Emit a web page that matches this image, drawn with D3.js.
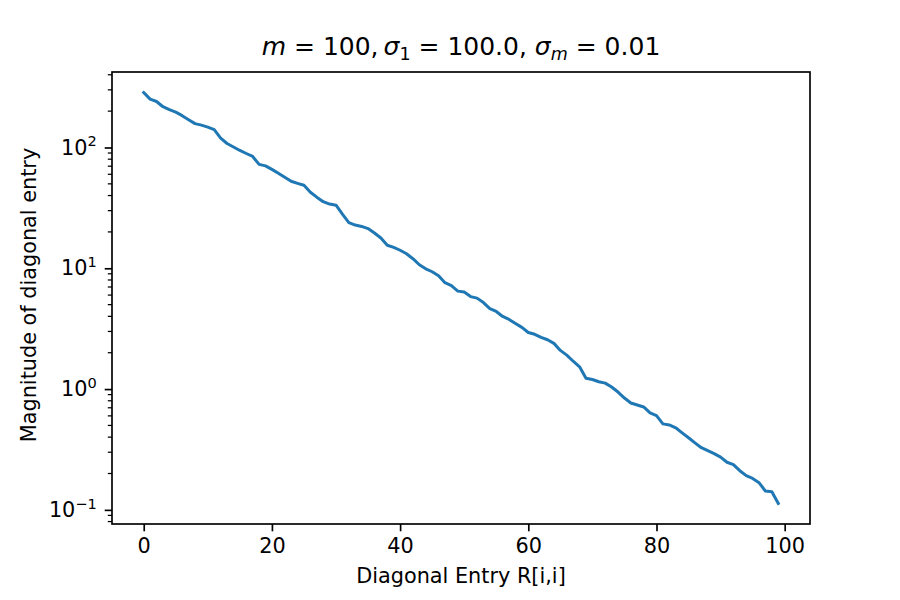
<!DOCTYPE html>
<html>
<head>
<meta charset="utf-8">
<script src="https://cdn.jsdelivr.net/npm/d3@7"></script>
<style>
  html, body { margin: 0; padding: 0; background: #fff; }
  svg { display: block; }
  text { font-family: "DejaVu Sans", sans-serif; fill: #000; }
</style>
</head>
<body>
<div id="chart"></div>
<script>
// ---- data ----
const entryIndex = d3.range(0, 100); // i = 0..99
const diagValues = [
  285, 251.6, 240.4, 217.5, 205.5, 196.0, 183.4, 170.0, 157.6, 153.2,
  147.5, 140.7, 119.7, 107.9, 101.0, 94.5, 89.2, 84.3, 72.5, 70.4,
  65.9, 61.1, 56.6, 52.5, 50.5, 48.7, 42.6, 38.8, 35.6, 34.0,
  33.3, 28.1, 23.9, 22.8, 22.2, 21.3, 19.6, 17.8, 15.5, 14.9,
  14.1, 13.2, 12.0, 10.7, 9.9, 9.36, 8.68, 7.60, 7.18, 6.47,
  6.35, 5.83, 5.66, 5.20, 4.64, 4.39, 3.99, 3.77, 3.49, 3.24,
  2.94, 2.84, 2.68, 2.56, 2.39, 2.09, 1.91, 1.70, 1.53, 1.23,
  1.20, 1.15, 1.12, 1.04, 0.945, 0.843, 0.767, 0.738, 0.711, 0.635,
  0.603, 0.515, 0.505, 0.478, 0.434, 0.395, 0.359, 0.327, 0.309, 0.292,
  0.273, 0.248, 0.237, 0.211, 0.192, 0.182, 0.168, 0.143, 0.141, 0.113
];
const xTickValues = [0, 20, 40, 60, 80, 100];
const yTickExponents = [-1, 0, 1, 2];
const titleParts = [
  {t: "m", it: true}, {t: " = 100,\u2009"}, {t: "σ", it: true}, {t: "1", sub: true},
  {t: " = 100.0, "}, {t: "σ", it: true}, {t: "m", it: true, sub: true}, {t: " = 0.01"}
];
const xLabel = "Diagonal Entry R[i,i]";
const yLabel = "Magnitude of diagonal entry";

// ---- layout ----
const W = 900, H = 600;
const mLeft = 112, mRight = 810, mTop = 72, mBottom = 524;
const color = "#1f77b4";
const fs = 20.8;

const svg = d3.select("#chart").append("svg").attr("width", W).attr("height", H);

// matplotlib-like 5% margins
const xPad = (d3.max(entryIndex) - d3.min(entryIndex)) * 0.05;
const x = d3.scaleLinear()
  .domain([d3.min(entryIndex) - xPad, d3.max(entryIndex) + xPad])
  .range([mLeft, mRight]);
const lmin = Math.log10(d3.min(diagValues)), lmax = Math.log10(d3.max(diagValues));
const lpad = (lmax - lmin) * 0.05;
const y = d3.scaleLog()
  .domain([Math.pow(10, lmin - lpad), Math.pow(10, lmax + lpad)])
  .range([mBottom, mTop]);

// line
const line = d3.line().x((d, i) => x(entryIndex[i])).y(d => y(d));
svg.append("path")
  .datum(diagValues)
  .attr("d", line)
  .attr("fill", "none")
  .attr("stroke", color)
  .attr("stroke-width", 3)
  .attr("stroke-linejoin", "round")
  .attr("stroke-linecap", "square");

// x axis
const xAxis = d3.axisBottom(x).tickValues(xTickValues).tickSize(7.3).tickPadding(7.3)
  .tickFormat(d3.format("d"));
const gx = svg.append("g").attr("transform", `translate(0,${mBottom})`).call(xAxis);
gx.select(".domain").remove();
gx.selectAll(".tick line").attr("stroke", "#000").attr("stroke-width", 1.67);
gx.selectAll(".tick text").attr("font-size", fs).attr("font-family", "DejaVu Sans").attr("fill", "#000");

// y axis: major ticks with 10^n labels
const yMajor = yTickExponents.map(e => Math.pow(10, e));
const yAxis = d3.axisLeft(y).tickValues(yMajor).tickSize(7.3).tickPadding(7.3).tickFormat("");
const gy = svg.append("g").attr("transform", `translate(${mLeft},0)`).call(yAxis);
gy.select(".domain").remove();
gy.selectAll(".tick line").attr("stroke", "#000").attr("stroke-width", 1.67);
gy.selectAll(".tick").each(function(d, i) {
  const e = yTickExponents[i];
  const t = d3.select(this).append("text")
    .attr("x", -15.2).attr("dy", "0.32em")
    .attr("text-anchor", "end").attr("font-size", fs).attr("fill", "#000");
  t.append("tspan").text("10");
  t.append("tspan").attr("font-size", fs * 0.7).attr("dy", -8.5)
    .text(e < 0 ? "\u2212" + (-e) : String(e));
});

// y minor ticks
const [dlo, dhi] = y.domain();
const minor = [];
for (let e = Math.floor(Math.log10(dlo)); e <= Math.ceil(Math.log10(dhi)); e++) {
  for (let k = 2; k <= 9; k++) {
    const v = k * Math.pow(10, e);
    if (v >= dlo && v <= dhi) minor.push(v);
  }
}
svg.append("g").selectAll("line").data(minor).join("line")
  .attr("x1", mLeft).attr("x2", mLeft - 4.2)
  .attr("y1", d => y(d)).attr("y2", d => y(d))
  .attr("stroke", "#000").attr("stroke-width", 1.25);

// spines
svg.append("rect")
  .attr("x", mLeft).attr("y", mTop).attr("width", mRight - mLeft).attr("height", mBottom - mTop)
  .attr("fill", "none").attr("stroke", "#000").attr("stroke-width", 1.67);

// labels
svg.append("text").attr("x", (mLeft + mRight) / 2).attr("y", 583)
  .attr("text-anchor", "middle").attr("font-size", fs).text(xLabel);
svg.append("text")
  .attr("transform", `translate(36,295) rotate(-90)`)
  .attr("text-anchor", "middle").attr("font-size", fs).text(yLabel);

// title
const title = svg.append("text").attr("x", (mLeft + mRight) / 2).attr("y", 55)
  .attr("text-anchor", "middle").attr("font-size", 25).attr("xml:space", "preserve");
let shifted = false;
titleParts.forEach(p => {
  const ts = title.append("tspan").text(p.t);
  if (p.it) ts.attr("font-style", "italic");
  if (p.sub) { ts.attr("font-size", 17.5).attr("dy", shifted ? 0 : 5); shifted = true; }
  else if (shifted) { ts.attr("dy", -5); shifted = false; }
});
</script>
</body>
</html>
